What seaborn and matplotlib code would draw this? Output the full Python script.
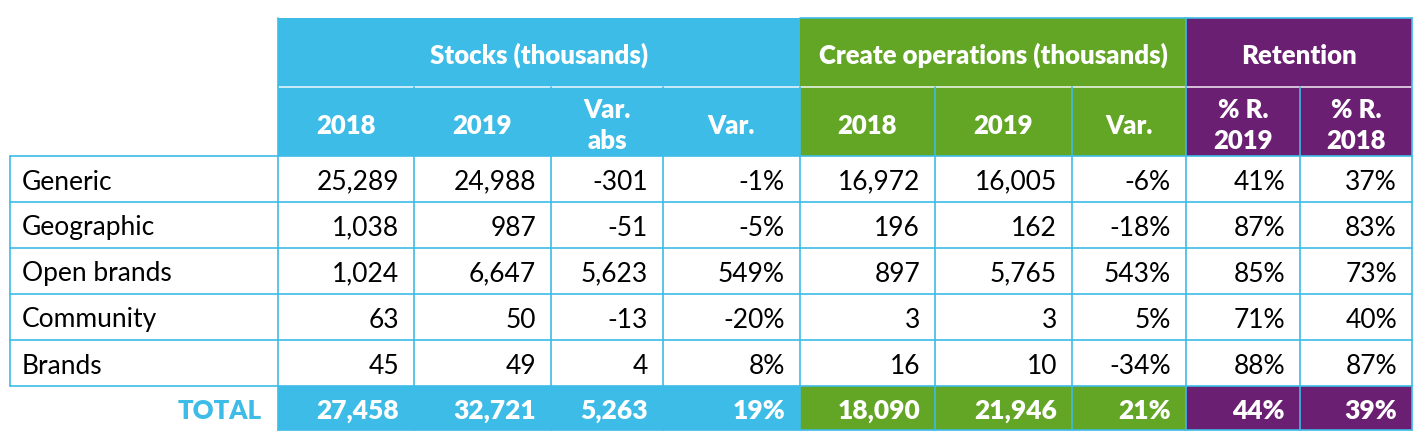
import matplotlib
matplotlib.use("Agg")
import matplotlib.pyplot as plt
from matplotlib.patches import Rectangle
import seaborn as sns

# ---------------- data ----------------
categories = ["Generic", "Geographic", "Open brands", "Community", "Brands"]
stocks_2018 = [25289, 1038, 1024, 63, 45]
stocks_2019 = [24988, 987, 6647, 50, 49]
stocks_var_abs = [-301, -51, 5623, -13, 4]
stocks_var_pct = [-1, -5, 549, -20, 8]
create_2018 = [16972, 196, 897, 3, 16]
create_2019 = [16005, 162, 5765, 3, 10]
create_var_pct = [-6, -18, 543, 5, -34]
ret_2019 = [41, 87, 85, 71, 88]
ret_2018 = [37, 83, 73, 40, 87]
totals = [27458, 32721, 5263, 19, 18090, 21946, 21, 44, 39]
total_label = "TOTAL"

group_titles = ["Stocks (thousands)", "Create operations (thousands)", "Retention"]
sub_headers = ["2018", "2019", "Var.\nabs", "Var.", "2018", "2019", "Var.", "% R.\n2019", "% R.\n2018"]
col_kinds = ["num", "num", "num", "pct", "num", "num", "pct", "pct", "pct"]
col_group = [0, 0, 0, 0, 1, 1, 1, 2, 2]

# ---------------- style ----------------
sns.set_theme(style="white")
plt.rcParams["font.family"] = ["Lato", "DejaVu Sans"]

BLUE = "#3CBCE6"
GREEN = "#63A625"
PURPLE = "#6B1F72"
group_colors = [BLUE, GREEN, PURPLE]

W, H = 1424, 447
fig = plt.figure(figsize=(W / 100, H / 100), dpi=100)
ax = fig.add_axes([0, 0, 1, 1])
ax.set_xlim(0, W)
ax.set_ylim(H, 0)
ax.axis("off")

# layout
label_left, label_right = 10, 278
col_edges = [278, 414, 551, 663, 800, 935, 1072, 1186, 1300, 1412]
y_head_top, y_head_mid, y_body_top = 18, 87, 156
row_h = 46
y_total_top = y_body_top + row_h * len(categories)
y_total_bot = y_total_top + 44

FS = 19
FS_H = 18.5
BOLD = "heavy"
LINE_W = 1.2

columns = [stocks_2018, stocks_2019, stocks_var_abs, stocks_var_pct,
           create_2018, create_2019, create_var_pct, ret_2019, ret_2018]


def fmt(v, kind):
    return f"{v}%" if kind == "pct" else f"{v:,}"


# header group boxes
group_spans = {}
for i, g in enumerate(col_group):
    lo, hi = group_spans.get(g, (col_edges[i], col_edges[i + 1]))
    group_spans[g] = (min(lo, col_edges[i]), max(hi, col_edges[i + 1]))

for g, (x0, x1) in group_spans.items():
    c = group_colors[g]
    ax.add_patch(Rectangle((x0, y_head_top), x1 - x0, y_body_top - y_head_top,
                           facecolor=c, edgecolor="none", zorder=1))
    ax.add_patch(Rectangle((x0, y_total_top), x1 - x0, y_total_bot - y_total_top,
                           facecolor=c, edgecolor="none", zorder=1))
    ax.text((x0 + x1) / 2, (y_head_top + y_head_mid) / 2 + 3, group_titles[g],
            ha="center", va="center", color="white", fontsize=FS_H,
            fontweight=BOLD, zorder=3)

# header separator (row1 / row2)
ax.plot([col_edges[0], col_edges[-1]], [y_head_mid, y_head_mid],
        color="white", lw=LINE_W, zorder=2, alpha=0.85)

# sub headers
for i, lab in enumerate(sub_headers):
    xc = (col_edges[i] + col_edges[i + 1]) / 2
    ax.text(xc, (y_head_mid + y_body_top) / 2 + 4, lab, ha="center", va="center",
            color="white", fontsize=FS_H, fontweight=BOLD,
            linespacing=1.32, zorder=3)

# body grid lines
for r in range(len(categories) + 1):
    y = y_body_top + r * row_h
    ax.plot([label_left, col_edges[-1]], [y, y], color=BLUE, lw=LINE_W, zorder=2)
ax.plot([label_left, label_left], [y_body_top, y_total_top], color=BLUE, lw=LINE_W, zorder=2)
for i, x in enumerate(col_edges):
    top = y_head_mid if (0 < i < len(col_edges) - 1) else y_head_top
    if i == 7:
        top = y_head_top
    ax.plot([x, x], [top, y_total_bot], color=BLUE, lw=LINE_W, zorder=2)
ax.plot([group_spans[1][0], col_edges[-1]], [y_head_top, y_head_top],
        color=BLUE, lw=LINE_W, zorder=2)
ax.plot([col_edges[0], col_edges[-1]], [y_total_bot, y_total_bot],
        color=BLUE, lw=LINE_W, zorder=2)

# body text
for r, cat in enumerate(categories):
    yc = y_body_top + r * row_h + row_h / 2 + 3
    ax.text(label_left + 12, yc, cat, ha="left", va="center", color="black",
            fontsize=FS, zorder=3)
    for i, col in enumerate(columns):
        ax.text(col_edges[i + 1] - 15, yc, fmt(col[r], col_kinds[i]),
                ha="right", va="center", color="black", fontsize=FS, zorder=3)

# total row
yc = (y_total_top + y_total_bot) / 2 + 3
ax.text(label_right - 16, yc, total_label, ha="right", va="center", color=BLUE,
        fontsize=FS - 0.5, fontweight=BOLD, zorder=3)
for i, v in enumerate(totals):
    ax.text(col_edges[i + 1] - 15, yc, fmt(v, col_kinds[i]), ha="right",
            va="center", color="white", fontsize=FS, fontweight=BOLD, zorder=3)

fig.savefig("out.png", dpi=100, facecolor="white")
